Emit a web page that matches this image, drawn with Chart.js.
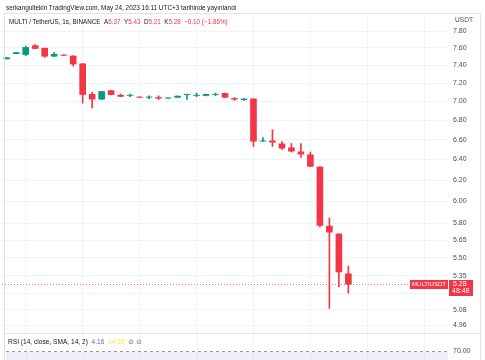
<!DOCTYPE html>
<html>
<head>
<meta charset="utf-8">
<script src="https://cdn.jsdelivr.net/npm/chart.js@4.4.0/dist/chart.umd.min.js"></script>
<style>
html, body { margin: 0; padding: 0; background: #fff; }
#wrap { position: relative; width: 485px; height: 360px; overflow: hidden; font-family: "Liberation Sans", Arial, sans-serif; }
#myChart { position: absolute; left: 0; top: 0; }
.txt { position: absolute; white-space: nowrap; color: #131722; line-height: 1; }
.r { color: #f23645; }
</style>
</head>
<body>
<div id="wrap">
  <canvas id="myChart" width="485" height="360"></canvas>
  <div class="txt" style="left:6px;top:5px;font-size:6.4px">serkangultekin TradingView.com, May 24, 2023 16:11 UTC+3 tarihinde yayınlandı</div>
  <div class="txt" style="left:9px;top:19px;font-size:6.3px">MULTI / TetherUS, 1s, BINANCE&nbsp;&nbsp;A<span class="r">5.37</span>&nbsp;&nbsp;Y<span class="r">5.43</span>&nbsp;&nbsp;D<span class="r">5.21</span>&nbsp;&nbsp;K<span class="r">5.28</span>&nbsp;&nbsp;<span class="r">−0.10 (−1.86%)</span></div>
  <div class="txt" style="left:455px;top:17px;font-size:6.6px;color:#4a4d57">USDT</div>
  <div class="txt" style="left:8px;top:339px;font-size:6.6px">RSI (14, close, SMA, 14, 2)&nbsp;&nbsp;<span style="color:#7e57c2">4.16</span>&nbsp;&nbsp;<span style="color:#f7e93f">14.35</span>&nbsp;&nbsp;<span style="color:#787b86">⊘&nbsp;⊘</span></div>
</div>
<script>
// candles, 1s
const opens  = [7.47, 7.53, 7.52, 7.63, 7.60, 7.50, 7.52, 7.51, 7.42, 7.08, 7.02, 7.12, 7.07, 7.06, 7.05, 7.04, 7.045, 7.03, 7.04, 7.07,
                7.06, 7.06, 7.07, 7.09, 7.035, 7.015, 7.03, 6.58, 6.59, 6.56, 6.52, 6.48, 6.45, 6.33, 5.78, 5.71, 5.37];
const highs  = [7.49, 7.55, 7.62, 7.64, 7.60, 7.55, 7.52, 7.51, 7.42, 7.10, 7.11, 7.12, 7.08, 7.08, 7.05, 7.06, 7.06, 7.035, 7.06, 7.07,
                7.09, 7.08, 7.09, 7.09, 7.04, 7.03, 7.03, 6.62, 6.70, 6.58, 6.56, 6.56, 6.475, 6.33, 5.85, 5.71, 5.43];
const lows   = [7.47, 7.53, 7.51, 7.59, 7.49, 7.50, 7.51, 7.39, 6.98, 6.93, 7.02, 7.07, 7.05, 7.05, 7.04, 7.03, 7.02, 7.03, 7.04, 7.02,
                7.05, 7.06, 7.06, 7.04, 7.01, 7.01, 6.53, 6.58, 6.53, 6.50, 6.475, 6.42, 6.33, 5.77, 5.09, 5.26, 5.21];
const closes = [7.49, 7.55, 7.61, 7.59, 7.50, 7.53, 7.51, 7.41, 7.07, 7.02, 7.11, 7.07, 7.05, 7.065, 7.04, 7.05, 7.03, 7.035, 7.06, 7.07,
                7.07, 7.08, 7.08, 7.04, 7.02, 7.03, 6.58, 6.59, 6.57, 6.51, 6.48, 6.45, 6.33, 5.78, 5.72, 5.38, 5.28];
const priceTicks = [7.80, 7.60, 7.40, 7.20, 7.00, 6.80, 6.60, 6.40, 6.20, 6.00, 5.80, 5.65, 5.50, 5.35, 5.21, 5.08, 4.96];
const lastPrice = 5.28;
const slotCount = 47; // empty slots to the right of the last candle

const UP = '#089981', DOWN = '#f23645';
const slots = Array.from({length: slotCount}, (_, i) => String(i + 1));
const candleColors = opens.map((o, i) => closes[i] >= o ? UP : DOWN);
const FONT = '"Liberation Sans", Arial, sans-serif';

const extras = {
  id: 'extras',
  afterDraw(chart) {
    const c = chart.ctx, a = chart.chartArea;
    const xs = chart.scales.x, ys = chart.scales.y;
    c.save();
    // panel frame
    c.strokeStyle = '#e0e3eb'; c.lineWidth = 1;
    c.beginPath();
    c.moveTo(4.5, 360); c.lineTo(4.5, 13.5); c.lineTo(480.5, 13.5); c.lineTo(480.5, 360);
    c.moveTo(4.5, 333.5); c.lineTo(480.5, 333.5);
    c.stroke();
    // time grid continues in the RSI pane
    c.strokeStyle = '#f0f3fa';
    for (let i = 2; i < slotCount; i += 6) {
      const x = Math.round(xs.getPixelForValue(i)) + 0.5;
      c.beginPath(); c.moveTo(x, 334); c.lineTo(x, 360); c.stroke();
    }
    // RSI band
    c.fillStyle = 'rgba(126,87,194,0.1)';
    c.fillRect(a.left + 4, 352, a.right - a.left - 4, 8);
    c.setLineDash([3, 3]); c.strokeStyle = '#9598a1';
    c.beginPath(); c.moveTo(a.left + 4, 351.5); c.lineTo(a.right, 351.5); c.stroke();
    c.setLineDash([]);
    c.fillStyle = '#4a4d57'; c.font = '7px ' + FONT; c.textBaseline = 'middle'; c.textAlign = 'left';
    c.fillText('70.00', 453, 351);
    // last price line + labels
    const py = Math.round(ys.getPixelForValue(lastPrice)) + 0.5;
    c.setLineDash([1, 2]); c.strokeStyle = 'rgba(242,54,69,0.7)';
    c.beginPath(); c.moveTo(a.left, py); c.lineTo(a.right, py); c.stroke();
    c.setLineDash([]);
    c.fillStyle = DOWN;
    c.fillRect(410, py - 4.5, 38, 9);
    c.fillRect(449, py - 4.5, 24, 16);
    c.fillStyle = '#fff'; c.font = '6px ' + FONT; c.textAlign = 'center';
    c.fillText('MULTIUSDT', 429, py);
    c.font = '7px ' + FONT; c.textAlign = 'left';
    c.fillText(lastPrice.toFixed(2), 453, py);
    c.fillText('48:48', 452, py + 7);
    c.restore();
  }
};

const ctx = document.getElementById('myChart');
const chart = new Chart(ctx, {
  type: 'bar',
  data: {
    labels: slots,
    datasets: [{
      label: 'body',
      data: opens.map((o, i) => [o, closes[i]]),
      backgroundColor: candleColors,
      barPercentage: 0.7,
      categoryPercentage: 1,
      minBarLength: 1,
      grouped: false
    }, {
      label: 'wick',
      data: lows.map((l, i) => [l, highs[i]]),
      backgroundColor: candleColors,
      barThickness: 1,
      grouped: false
    }]
  },
  options: {
    responsive: false,
    animation: false,
    layout: { padding: { top: 13, bottom: 27, left: 2, right: 0 } },
    scales: {
      x: {
        ticks: { display: false, autoSkip: false },
        grid: {
          offset: false, drawTicks: false,
          color: c => (c.index % 6 === 2 ? '#f0f3fa' : 'rgba(0,0,0,0)')
        },
        border: { display: false },
        afterFit: s => { s.height = 0; }
      },
      y: {
        type: 'logarithmic',
        position: 'right',
        min: 4.905,
        max: 8.02,
        afterBuildTicks: s => { s.ticks = priceTicks.map(v => ({ value: v })); },
        afterFit: s => { s.width = 37; },
        ticks: {
          autoSkip: false, padding: 5, color: '#4a4d57',
          font: { size: 7, family: FONT },
          callback: v => Number(v).toFixed(2)
        },
        grid: { color: '#f0f3fa', drawTicks: false },
        border: { display: false }
      }
    },
    plugins: {
      legend: { display: false },
      tooltip: { enabled: false }
    }
  },
  plugins: [extras]
});
</script>
</body>
</html>
